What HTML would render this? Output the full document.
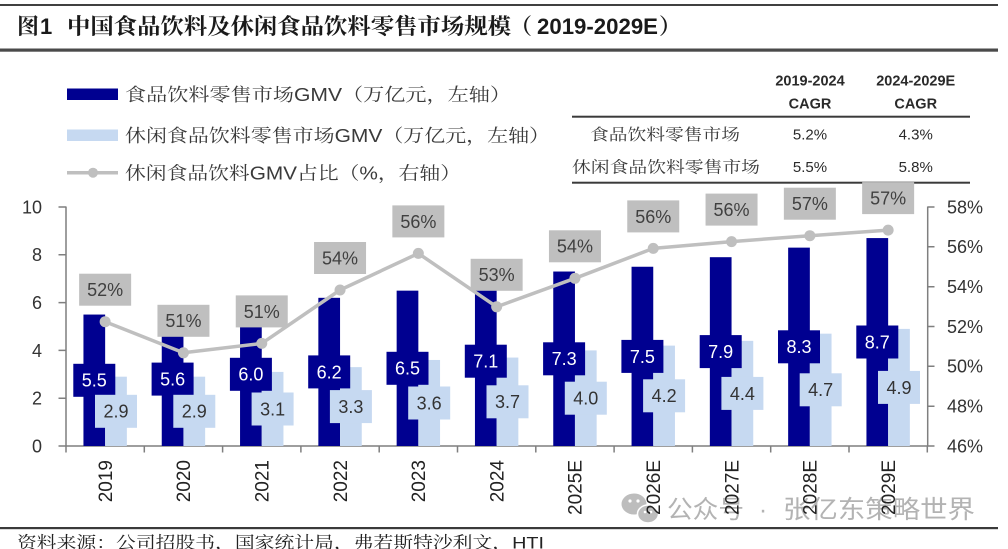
<!DOCTYPE html>
<html><head><meta charset="utf-8"><style>
html,body{margin:0;padding:0;background:#fff;}
svg{display:block;}
</style></head><body>
<svg width="1008" height="549" viewBox="0 0 1008 549" xmlns="http://www.w3.org/2000/svg">
<rect width="1008" height="549" fill="#fff"/>
<!-- title -->
<rect x="0" y="4" width="998" height="2" fill="#404040"/>
<rect x="0" y="48.5" width="998" height="3.2" fill="#4a4a4a"/>
<g font-weight="700" fill="#1a1a1a">
<text x="17" y="34" font-size="22" font-family="'Noto Serif CJK SC','Noto Sans CJK SC',serif">图</text>
<text x="40" y="34" font-size="22" font-family="'Liberation Sans',sans-serif">1</text>
<text x="67" y="34" font-size="22" textLength="444" lengthAdjust="spacingAndGlyphs" font-family="'Noto Serif CJK SC','Noto Sans CJK SC',serif">中国食品饮料及休闲食品饮料零售市场规模</text>
<text x="510" y="34" font-size="22" font-family="'Noto Serif CJK SC','Noto Sans CJK SC',serif">（</text>
<text x="537" y="34" font-size="22" textLength="121" lengthAdjust="spacingAndGlyphs" font-family="'Liberation Sans',sans-serif">2019-2029E</text>
<text x="659" y="34" font-size="22" font-family="'Noto Serif CJK SC','Noto Sans CJK SC',serif">）</text>
</g>
<!-- legend -->
<rect x="67" y="88.5" width="51" height="11.5" fill="#000090"/>
<rect x="67" y="129.5" width="51" height="11.5" fill="#C6D9F1"/>
<line x1="67" y1="172.7" x2="118" y2="172.7" stroke="#BFBFBF" stroke-width="3.5"/>
<circle cx="93" cy="172.7" r="5" fill="#BFBFBF"/>
<g font-size="18" fill="#3a3a3a" font-family="'Liberation Sans','Noto Serif CJK SC',serif">
<text x="125" y="101" textLength="386" lengthAdjust="spacingAndGlyphs">食品饮料零售市场GMV（万亿元，左轴）</text>
<text x="125" y="142" textLength="425" lengthAdjust="spacingAndGlyphs">休闲食品饮料零售市场GMV（万亿元，左轴）</text>
<text x="125" y="179.5" textLength="336" lengthAdjust="spacingAndGlyphs">休闲食品饮料GMV占比（%，右轴）</text>
</g>
<!-- table -->
<rect x="572" y="115.7" width="398" height="2" fill="#3a3a3a"/>
<rect x="572" y="181.7" width="398" height="2" fill="#3a3a3a"/>
<g font-family="'Liberation Sans',sans-serif" font-size="14.5" font-weight="700" fill="#2a2a2a" text-anchor="middle">
<text x="810" y="85.5">2019-2024</text>
<text x="810" y="108.5">CAGR</text>
<text x="915.7" y="85.5">2024-2029E</text>
<text x="915.7" y="108.5">CAGR</text>
</g>
<g font-family="'Liberation Sans',sans-serif" font-size="15" fill="#2a2a2a" text-anchor="middle">
<text x="810" y="139.5">5.2%</text>
<text x="915.7" y="139.5">4.3%</text>
<text x="810" y="172.2">5.5%</text>
<text x="915.7" y="172.2">5.8%</text>
</g>
<g font-family="'Noto Serif CJK SC',serif" font-size="16" fill="#3a3a3a">
<text x="590" y="140" textLength="150" lengthAdjust="spacingAndGlyphs">食品饮料零售市场</text>
<text x="572" y="172.7" textLength="188" lengthAdjust="spacingAndGlyphs">休闲食品饮料零售市场</text>
</g>
<!-- axes -->
<g stroke="#7f7f7f" stroke-width="1.5" fill="none">
<line x1="66" y1="206.5" x2="66" y2="446"/>
<line x1="927.7" y1="206.5" x2="927.7" y2="446"/>
<line x1="58.5" y1="446" x2="934.5" y2="446"/>
<path d="M58.5 207H66M58.5 254.8H66M58.5 302.6H66M58.5 350.4H66M58.5 398.2H66"/>
<path d="M927.7 207H934.5M927.7 246.8H934.5M927.7 286.7H934.5M927.7 326.5H934.5M927.7 366.3H934.5M927.7 406.2H934.5"/>
<path d="M66 446V452.5M144.3 446V452.5M222.6 446V452.5M300.9 446V452.5M379.2 446V452.5M457.5 446V452.5M535.8 446V452.5M614.1 446V452.5M692.4 446V452.5M770.7 446V452.5M849 446V452.5M927.3 446V452.5"/>
</g>
<g font-family="'Liberation Sans',sans-serif" font-size="18" fill="#333" text-anchor="end">
<text x="42" y="213.4">10</text>
<text x="42" y="261.2">8</text>
<text x="42" y="309">6</text>
<text x="42" y="356.8">4</text>
<text x="42" y="404.6">2</text>
<text x="42" y="452.4">0</text>
</g>
<g font-family="'Liberation Sans',sans-serif" font-size="18" fill="#333">
<text x="947" y="213.4">58%</text>
<text x="947" y="253.2">56%</text>
<text x="947" y="293.1">54%</text>
<text x="947" y="332.9">52%</text>
<text x="947" y="372.7">50%</text>
<text x="947" y="412.6">48%</text>
<text x="947" y="452.4">46%</text>
</g>
<!-- bars -->
<g fill="#000090">
<rect x="83.45" y="314.55" width="21.7" height="131.45"/>
<rect x="161.75" y="312.16" width="21.7" height="133.84"/>
<rect x="240.05" y="302.6" width="21.7" height="143.4"/>
<rect x="318.35" y="297.82" width="21.7" height="148.18"/>
<rect x="396.65" y="290.65" width="21.7" height="155.35"/>
<rect x="474.95" y="276.31" width="21.7" height="169.69"/>
<rect x="553.25" y="271.53" width="21.7" height="174.47"/>
<rect x="631.55" y="266.75" width="21.7" height="179.25"/>
<rect x="709.85" y="257.19" width="21.7" height="188.81"/>
<rect x="788.15" y="247.63" width="21.7" height="198.37"/>
<rect x="866.45" y="238.07" width="21.7" height="207.93"/>
</g>
<g fill="#C6D9F1">
<rect x="105.15" y="376.69" width="21.7" height="69.31"/>
<rect x="183.45" y="376.69" width="21.7" height="69.31"/>
<rect x="261.75" y="371.91" width="21.7" height="74.09"/>
<rect x="340.05" y="367.13" width="21.7" height="78.87"/>
<rect x="418.35" y="359.96" width="21.7" height="86.04"/>
<rect x="496.65" y="357.57" width="21.7" height="88.43"/>
<rect x="574.95" y="350.4" width="21.7" height="95.6"/>
<rect x="653.25" y="345.62" width="21.7" height="100.38"/>
<rect x="731.55" y="340.84" width="21.7" height="105.16"/>
<rect x="809.85" y="333.67" width="21.7" height="112.33"/>
<rect x="888.15" y="328.89" width="21.7" height="117.11"/>
</g>
<!-- line -->
<polyline fill="none" stroke="#BFBFBF" stroke-width="3.5" stroke-linejoin="round" points="105.15,321.7 183.45,352.8 261.75,343.4 340.05,290 418.35,253.4 496.65,306.8 574.95,278.3 653.25,248.4 731.55,241.6 809.85,235.7 888.15,230.1"/>
<g fill="#BFBFBF">
<circle cx="105.15" cy="321.7" r="5.5"/>
<circle cx="183.45" cy="352.8" r="5.5"/>
<circle cx="261.75" cy="343.4" r="5.5"/>
<circle cx="340.05" cy="290" r="5.5"/>
<circle cx="418.35" cy="253.4" r="5.5"/>
<circle cx="496.65" cy="306.8" r="5.5"/>
<circle cx="574.95" cy="278.3" r="5.5"/>
<circle cx="653.25" cy="248.4" r="5.5"/>
<circle cx="731.55" cy="241.6" r="5.5"/>
<circle cx="809.85" cy="235.7" r="5.5"/>
<circle cx="888.15" cy="230.1" r="5.5"/>
</g>
<!-- dark labels -->
<g fill="#000090">
<rect x="73.3" y="363.8" width="42" height="33"/>
<rect x="151.6" y="362.6" width="42" height="33"/>
<rect x="229.9" y="357.8" width="42" height="33"/>
<rect x="308.2" y="355.4" width="42" height="33"/>
<rect x="386.5" y="351.8" width="42" height="33"/>
<rect x="464.8" y="344.7" width="42" height="33"/>
<rect x="543.1" y="342.3" width="42" height="33"/>
<rect x="621.4" y="339.9" width="42" height="33"/>
<rect x="699.7" y="335.1" width="42" height="33"/>
<rect x="778" y="330.3" width="42" height="33"/>
<rect x="856.3" y="325.5" width="42" height="33"/>
</g>
<g font-family="'Liberation Sans',sans-serif" font-size="18" fill="#fff" text-anchor="middle">
<text x="94.3" y="386.7">5.5</text>
<text x="172.6" y="385.5">5.6</text>
<text x="250.9" y="380.7">6.0</text>
<text x="329.2" y="378.3">6.2</text>
<text x="407.5" y="374.7">6.5</text>
<text x="485.8" y="367.6">7.1</text>
<text x="564.1" y="365.2">7.3</text>
<text x="642.4" y="362.8">7.5</text>
<text x="720.7" y="358">7.9</text>
<text x="799" y="353.2">8.3</text>
<text x="877.3" y="348.4">8.7</text>
</g>
<!-- light labels -->
<g fill="#C6D9F1">
<rect x="95" y="394.8" width="42" height="33"/>
<rect x="173.3" y="394.8" width="42" height="33"/>
<rect x="251.6" y="392.5" width="42" height="33"/>
<rect x="329.9" y="390.1" width="42" height="33"/>
<rect x="408.2" y="386.5" width="42" height="33"/>
<rect x="486.5" y="385.3" width="42" height="33"/>
<rect x="564.8" y="381.7" width="42" height="33"/>
<rect x="643.1" y="379.3" width="42" height="33"/>
<rect x="721.4" y="376.9" width="42" height="33"/>
<rect x="799.7" y="373.3" width="42" height="33"/>
<rect x="878" y="370.9" width="42" height="33"/>
</g>
<g font-family="'Liberation Sans',sans-serif" font-size="18" fill="#333" text-anchor="middle">
<text x="116" y="417.7">2.9</text>
<text x="194.3" y="417.7">2.9</text>
<text x="272.6" y="415.4">3.1</text>
<text x="350.9" y="413">3.3</text>
<text x="429.2" y="409.4">3.6</text>
<text x="507.5" y="408.2">3.7</text>
<text x="585.8" y="404.6">4.0</text>
<text x="664.1" y="402.2">4.2</text>
<text x="742.4" y="399.8">4.4</text>
<text x="820.7" y="396.2">4.7</text>
<text x="899" y="393.8">4.9</text>
</g>
<!-- pct labels -->
<g fill="#BFBFBF">
<rect x="79.15" y="273.7" width="52" height="32"/>
<rect x="157.45" y="304.8" width="52" height="32"/>
<rect x="235.75" y="295.4" width="52" height="32"/>
<rect x="314.05" y="242" width="52" height="32"/>
<rect x="392.35" y="205.4" width="52" height="32"/>
<rect x="470.65" y="258.8" width="52" height="32"/>
<rect x="548.95" y="230.3" width="52" height="32"/>
<rect x="627.25" y="200.4" width="52" height="32"/>
<rect x="705.55" y="193.6" width="52" height="32"/>
<rect x="783.85" y="187.7" width="52" height="32"/>
<rect x="862.15" y="182.1" width="52" height="32"/>
</g>
<g font-family="'Liberation Sans',sans-serif" font-size="18" fill="#404040" text-anchor="middle">
<text x="105.15" y="296.1">52%</text>
<text x="183.45" y="327.2">51%</text>
<text x="261.75" y="317.8">51%</text>
<text x="340.05" y="264.4">54%</text>
<text x="418.35" y="227.8">56%</text>
<text x="496.65" y="281.2">53%</text>
<text x="574.95" y="252.7">54%</text>
<text x="653.25" y="222.8">56%</text>
<text x="731.55" y="216">56%</text>
<text x="809.85" y="210.1">57%</text>
<text x="888.15" y="204.5">57%</text>
</g>
<!-- watermark -->
<g fill="#bdbdbd">
<ellipse cx="634" cy="504" rx="12.5" ry="10.5"/>
<ellipse cx="648" cy="514" rx="10.5" ry="9" stroke="#fff" stroke-width="1.5"/>
<circle cx="630" cy="501" r="1.6" fill="#fff"/>
<circle cx="638" cy="501" r="1.6" fill="#fff"/>
<circle cx="645" cy="512" r="1.3" fill="#fff"/>
<circle cx="651" cy="512" r="1.3" fill="#fff"/>
</g>
<g font-family="'Noto Sans CJK SC',sans-serif" font-size="25" fill="#b3b3b3">
<text x="667" y="518" textLength="77" lengthAdjust="spacingAndGlyphs">公众号</text>
<text x="763" y="518" text-anchor="middle" font-family="'Liberation Sans',sans-serif">·</text>
<text x="783" y="518" textLength="192" lengthAdjust="spacingAndGlyphs">张亿东策略世界</text>
</g>
<!-- x labels -->
<g font-family="'Liberation Sans',sans-serif" font-size="19" fill="#222" text-anchor="end">
<text transform="translate(111.85,460) rotate(-90)">2019</text>
<text transform="translate(190.15,460) rotate(-90)">2020</text>
<text transform="translate(268.45,460) rotate(-90)">2021</text>
<text transform="translate(346.75,460) rotate(-90)">2022</text>
<text transform="translate(425.05,460) rotate(-90)">2023</text>
<text transform="translate(503.35,460) rotate(-90)">2024</text>
<text transform="translate(581.65,460) rotate(-90)">2025E</text>
<text transform="translate(659.95,460) rotate(-90)">2026E</text>
<text transform="translate(738.25,460) rotate(-90)">2027E</text>
<text transform="translate(816.55,460) rotate(-90)">2028E</text>
<text transform="translate(894.85,460) rotate(-90)">2029E</text>
</g>
<!-- footer -->
<rect x="0" y="527" width="998" height="2.2" fill="#3a3a3a"/>
<text x="17" y="548.5" font-size="17" fill="#222" textLength="527" lengthAdjust="spacingAndGlyphs" font-family="'Liberation Sans','Noto Serif CJK SC',serif">资料来源：公司招股书，国家统计局，弗若斯特沙利文，HTI</text>
</svg>
</body></html>
